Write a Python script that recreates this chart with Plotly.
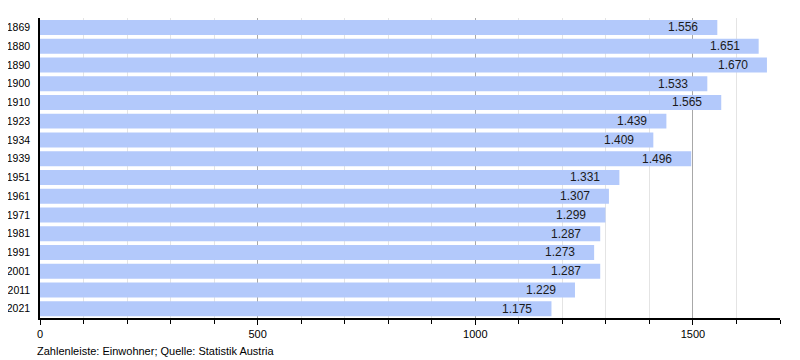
import plotly.graph_objects as go

years = ["1869", "1880", "1890", "1900", "1910", "1923", "1934", "1939",
         "1951", "1961", "1971", "1981", "1991", "2001", "2011", "2021"]
population = [1556, 1651, 1670, 1533, 1565, 1439, 1409, 1496,
              1331, 1307, 1299, 1287, 1273, 1287, 1229, 1175]
labels = [f"{v:,}".replace(",", ".") for v in population]

fig = go.Figure(go.Bar(
    y=years, x=population, orientation="h",
    marker=dict(color="#b3c9fb", line=dict(width=0)),
    width=0.8,
    textposition="none",
))

# category axis: annotation y given as the category index
value_labels = [dict(
    x=v, y=i, xref="x", yref="y", text=t, showarrow=False,
    xanchor="right", yanchor="middle", xshift=-17,
    font=dict(color="#1a1a1a", size=12, family="Liberation Sans"),
) for i, (v, t) in enumerate(zip(population, labels))]

# page body has an 8px margin, so the figure is sized 792x352
fig.update_layout(
    width=792, height=352,
    margin=dict(l=32, r=20, t=10, b=42, autoexpand=False),
    plot_bgcolor="white", paper_bgcolor="white",
    font=dict(family="Liberation Sans", size=11, color="black"),
    showlegend=False,
    xaxis=dict(
        range=[0, 1700], dtick=500, tick0=0, automargin=False,
        showgrid=True, gridcolor="#a8a8a8", gridwidth=1,
        ticks="outside", ticklen=5, tickcolor="black",
        showline=True, linecolor="black", linewidth=1.5,
        zeroline=False,
        tickfont=dict(size=11),
        minor=dict(dtick=100, showgrid=True, gridcolor="#e4e4e4",
                   ticks="outside", ticklen=4, tickcolor="black"),
    ),
    yaxis=dict(
        type="category", categoryorder="array", categoryarray=years,
        range=[len(years) - 0.5, -0.5], automargin=False,
        showline=True, linecolor="black", linewidth=1.5,
        showgrid=False, ticks="", ticklabelstandoff=6,
        tickfont=dict(size=10.5),
    ),
    annotations=value_labels + [dict(
        text="Zahlenleiste: Einwohner; Quelle: Statistik Austria",
        xref="paper", yref="paper", x=-0.007, y=-0.083,
        xanchor="left", yanchor="top", showarrow=False,
        font=dict(size=11, color="black"),
    )],
)

fig.write_html("out.html")
